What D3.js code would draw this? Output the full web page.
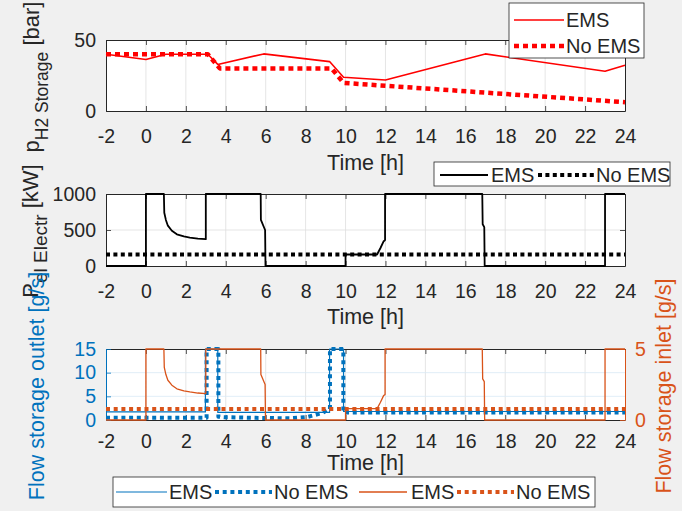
<!DOCTYPE html>
<html><head><meta charset="utf-8">
<script src="https://cdn.jsdelivr.net/npm/d3@7"></script>
<style>
html,body{margin:0;padding:0;background:#f0f0f0;}
svg{display:block;font-family:"Liberation Sans",Arial,Helvetica,sans-serif;}
</style></head><body>
<svg id="c" width="682" height="511"></svg>
<script>
// ---------- DATA ----------
const timeTicks = [-2,0,2,4,6,8,10,12,14,16,18,20,22,24];
// Panel 1: H2 storage pressure [bar]
const presTimeEMS = [-2, 0, 1, 3.1, 3.6, 5.9, 9.2, 9.9, 12, 17, 23, 24];
const presEMS     = [40, 36.3, 40, 40, 32.8, 40.2, 34.8, 23.8, 21.8, 40.2, 28, 32.2];
const presTimeNo  = [-2, 3.1, 3.7, 9.3, 9.9, 24];
const presNoEMS   = [40, 40, 30, 30, 19.8, 6.2];
const presTicks   = [0, 50];
// Panel 2: electrolyser power [kW]
const elTime   = [-2, 0, 0, 0.9, 0.92, 1.0, 1.1, 1.3, 1.55, 1.9, 2.2, 2.6, 3.0, 3.0, 5.75, 5.76, 5.97, 5.99, 10, 10, 11.58, 11.75, 11.9, 11.98, 11.98, 16.85, 16.87, 16.95, 16.97, 23, 23, 24];
const elEMS    = [0, 0, 1000, 1000, 740, 640, 560, 490, 440, 410, 395, 380, 372, 1000, 1000, 640, 500, 0, 0, 160, 160, 250, 340, 360, 1000, 1000, 580, 540, 0, 0, 1000, 1000];
const elTimeNo = [-2, 24];
const elNoEMS  = [160, 160];
const elTicks  = [0, 500, 1000];
// Panel 3: storage outlet flow (left, g/s) and inlet flow (right, g/s)
const outTimeEMS = [-2, 2.98, 2.98, 3.6, 3.6, 9.2, 9.2, 9.9, 9.9, 24];
const outEMS     = [1.7, 1.7, 15, 15, 1.6, 1.6, 15, 15, 1.8, 1.8];
const outTimeNo  = [-2, 3.04, 3.04, 3.63, 3.63, 3.9, 5.5, 7.2, 8.05, 8.85, 9.14, 9.22, 9.22, 9.89, 9.89, 24];
const outNoEMS   = [0.5, 0.5, 15, 15, 0.7, 0.6, 0.45, 0.35, 0.6, 1.5, 2.2, 2.3, 15, 15, 1.6, 1.6];
const inTimeEMS  = [-2, 0, 0, 0.9, 0.92, 1.0, 1.1, 1.3, 1.55, 1.9, 2.2, 2.6, 3.0, 3.0, 5.75, 5.76, 5.97, 5.99, 10, 10, 11.58, 11.75, 11.9, 11.98, 11.98, 16.85, 16.87, 16.95, 16.97, 23, 23, 24];
const inEMS      = [0, 0, 5, 5, 3.7, 3.2, 2.8, 2.45, 2.2, 2.05, 1.98, 1.9, 1.86, 5, 5, 3.2, 2.5, 0, 0, 0.8, 0.8, 1.25, 1.7, 1.8, 5, 5, 2.9, 2.7, 0, 0, 5, 5];
const inTimeNo   = [-2, 24];
const inNoEMS    = [0.78, 0.78];
const outTicks   = [0, 5, 10, 15];
const inTicks    = [0, 5];
const legendNames = ["EMS", "No EMS"];

// ---------- STYLE ----------
const AX = "#262626", RED = "#ff0000", BLK = "#000000", BLUE = "#0072bd", ORG = "#d95319";
const GRID = "#dedede", GRIDB = "#d9eaf5";
const TICKFS = 19.5, LABFS = 21.5, LEGFS = 20;
const fmt = d => (d < 0 ? "-" + Math.abs(d) : String(d));

const svg = d3.select("#c");
svg.append("rect").attr("width",682).attr("height",511).attr("fill","#f0f0f0");

const x = d3.scaleLinear().domain([-2,24]).range([106,625]);
const X0 = 106, X1 = 625;

function styleAxis(g, color, fs) {
  g.select(".domain").attr("stroke", color).attr("stroke-width", 1);
  g.selectAll(".tick line").attr("stroke", color).attr("stroke-width", 0.8);
  g.selectAll(".tick text").attr("fill", color).attr("font-size", fs).attr("font-family", '"Liberation Sans",Arial,sans-serif');
}

function panel(top, bot, yDom, yTicks, opts) {
  const y = d3.scaleLinear().domain(yDom).range([bot, top]);
  svg.append("rect").attr("x",X0).attr("y",top).attr("width",X1-X0).attr("height",bot-top).attr("fill","#fff");
  const gg = svg.append("g");
  gg.selectAll("line.v").data(timeTicks.slice(1,-1)).join("line")
    .attr("x1",d=>x(d)).attr("x2",d=>x(d)).attr("y1",top).attr("y2",bot)
    .attr("stroke",GRID).attr("stroke-width",0.8);
  gg.selectAll("line.h").data(yTicks.filter(t=>t!==yDom[0]&&t!==yDom[1])).join("line")
    .attr("x1",X0).attr("x2",X1).attr("y1",d=>y(d)).attr("y2",d=>y(d))
    .attr("stroke",opts.hgrid||GRID).attr("stroke-width",0.8);
  return y;
}

function axes(top, bot, y, yTicks, leftColor, pad, rightScale, rightTicks, rightColor) {
  const gb = svg.append("g").attr("transform",`translate(0,${bot})`)
    .call(d3.axisBottom(x).tickValues(timeTicks).tickFormat(fmt).tickSizeInner(-5).tickSizeOuter(0).tickPadding(pad));
  styleAxis(gb, AX, TICKFS);
  const gt = svg.append("g").attr("transform",`translate(0,${top})`)
    .call(d3.axisTop(x).tickValues(timeTicks).tickSizeInner(-5).tickSizeOuter(0).tickFormat(""));
  styleAxis(gt, AX, TICKFS);
  const gl = svg.append("g").attr("transform",`translate(${X0},0)`)
    .call(d3.axisLeft(y).tickValues(yTicks).tickFormat(fmt).tickSizeInner(-5).tickSizeOuter(0).tickPadding(10));
  styleAxis(gl, leftColor, TICKFS);
  if (rightScale) {
    const gr = svg.append("g").attr("transform",`translate(${X1},0)`)
      .call(d3.axisRight(rightScale).tickValues(rightTicks).tickFormat(fmt).tickSizeInner(-5).tickSizeOuter(0).tickPadding(10));
    styleAxis(gr, rightColor, TICKFS);
  } else {
    const gr = svg.append("g").attr("transform",`translate(${X1},0)`)
      .call(d3.axisRight(y).tickValues(yTicks).tickSizeInner(-5).tickSizeOuter(0).tickFormat(""));
    styleAxis(gr, AX, TICKFS);
  }
}

function drawLine(ts, vs, y, color, width, dash) {
  const line = d3.line().x(d=>x(d[0])).y(d=>y(d[1]));
  const p = svg.append("path").datum(d3.zip(ts, vs)).attr("d", line)
    .attr("fill","none").attr("stroke",color).attr("stroke-width",width)
    .attr("stroke-linejoin","round");
  if (dash) p.attr("stroke-dasharray", dash).attr("stroke-linecap","butt");
  return p;
}

function xlabel(yb) {
  svg.append("text").attr("x",(X0+X1)/2).attr("y",yb).attr("text-anchor","middle")
    .attr("font-size",LABFS).attr("fill",AX).text("Time [h]");
}

function legendBox(x0, y0, w, h) {
  svg.append("rect").attr("x",x0).attr("y",y0).attr("width",w).attr("height",h)
    .attr("fill","#fff").attr("stroke",AX).attr("stroke-width",0.8);
}
function legendItem(lx1, lx2, ly, color, width, dash, label, tx) {
  const l = svg.append("line").attr("x1",lx1).attr("x2",lx2).attr("y1",ly).attr("y2",ly)
    .attr("stroke",color).attr("stroke-width",width);
  if (dash) l.attr("stroke-dasharray",dash);
  svg.append("text").attr("x",tx).attr("y",ly).attr("dy","0.35em")
    .attr("font-size",LEGFS).attr("fill",AX).text(label);
}

// ---------- PANEL 1 ----------
const T1 = 40, B1 = 111;
const y1 = panel(T1, B1, [0,50], presTicks, {});
axes(T1, B1, y1, presTicks, AX, 18);
drawLine(presTimeEMS, presEMS, y1, RED, 1.6);
drawLine(presTimeNo, presNoEMS, y1, RED, 4.5, "5,4");
xlabel(170);

// ---------- PANEL 2 ----------
const T2 = 194, B2 = 266;
const y2 = panel(T2, B2, [0,1000], elTicks, {});
axes(T2, B2, y2, elTicks, AX, 18);
drawLine(elTime, elEMS, y2, BLK, 1.8);
drawLine(elTimeNo, elNoEMS, y2, BLK, 4, "4,3.4");
xlabel(324);

// ---------- PANEL 3 ----------
const T3 = 349, B3 = 420;
const y3 = panel(T3, B3, [0,15], outTicks, {hgrid: GRIDB});
const y3r = d3.scaleLinear().domain([0,5]).range([B3, T3]);
axes(T3, B3, y3, outTicks, BLUE, 14, y3r, inTicks, ORG);
drawLine(outTimeEMS, outEMS, y3, BLUE, 1.2);
drawLine(outTimeNo, outNoEMS, y3, BLUE, 4, "4,3.7");
drawLine(inTimeEMS, inEMS, y3r, ORG, 1.3);
drawLine(inTimeNo, inNoEMS, y3r, ORG, 4, "4,3.7");
xlabel(470);

// ---------- Y LABELS ----------
function ylab(cx, cy, color, fs, parts) {
  const t = svg.append("text").attr("transform",`translate(${cx},${cy}) rotate(-90)`)
    .attr("text-anchor","middle").attr("font-size",fs).attr("fill",color);
  parts.forEach(p => {
    const s = t.append("tspan").text(p.t);
    if (p.dy) s.attr("dy", p.dy);
    if (p.fs) s.attr("font-size", p.fs);
  });
}
ylab(39, 77, AX, 22, [{t:"p"},{t:"H2 Storage",dy:9,fs:17.5},{t:" [bar]",dy:-9}]);
ylab(38, 231, AX, 22, [{t:"P"},{t:"el Electr",dy:9,fs:19}, {t:" [kW]",dy:-9}]);
ylab(44, 386, BLUE, LABFS, [{t:"Flow storage outlet [g/s]"}]);
ylab(671, 386, ORG, LABFS, [{t:"Flow storage inlet [g/s]"}]);

// ---------- LEGENDS ----------
legendBox(509, 3, 135, 55);
legendItem(514, 564, 20, RED, 1.6, null, legendNames[0], 566);
legendItem(514, 564, 46, RED, 4.5, "5,4", legendNames[1], 566);

legendBox(434, 162, 236, 24);
legendItem(440, 488, 175, BLK, 1.8, null, legendNames[0], 491);
legendItem(538, 594, 175, BLK, 4, "4,3.4", legendNames[1], 596);

legendBox(113, 477, 482, 30);
legendItem(116, 167, 492, BLUE, 1.2, null, legendNames[0], 169);
legendItem(215, 272, 492, BLUE, 4, "4,3.7", legendNames[1], 274);
legendItem(359, 407, 492, ORG, 1.3, null, legendNames[0], 411);
legendItem(457, 514, 492, ORG, 4, "4,3.7", legendNames[1], 516);
</script>
</body></html>
